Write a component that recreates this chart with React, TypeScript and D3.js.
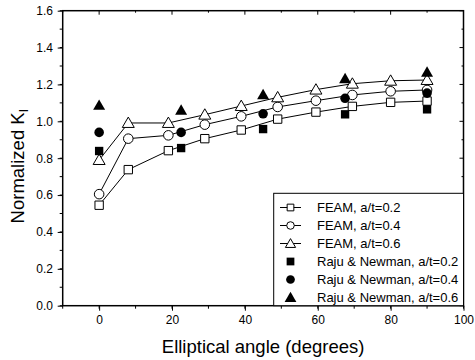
import React, { useRef, useEffect } from "react";
import * as d3 from "d3";

// FEAM curves (open markers joined by lines)
const feamAngles = [0, 8, 19, 29, 39, 49, 59.5, 69.5, 80, 90];
const feam02 = [0.545, 0.738, 0.841, 0.906, 0.953, 1.012, 1.05, 1.081, 1.103, 1.11];
const feam04 = [0.605, 0.906, 0.924, 0.982, 1.027, 1.078, 1.112, 1.143, 1.163, 1.17];
const feam06 = [0.79, 0.991, 0.991, 1.036, 1.083, 1.13, 1.172, 1.204, 1.22, 1.224];

// Raju & Newman (filled markers)
const rnAngles = [0, 22.5, 45, 67.5, 90];
const rn02 = [0.839, 0.855, 0.958, 1.038, 1.065];
const rn04 = [0.94, 0.94, 1.041, 1.125, 1.153];
const rn06 = [1.087, 1.06, 1.144, 1.231, 1.266];

const xTicks = [0, 20, 40, 60, 80, 100];
const yTicks = [0.0, 0.2, 0.4, 0.6, 0.8, 1.0, 1.2, 1.4, 1.6];

const legendLabels = [
  "FEAM, a/t=0.2",
  "FEAM, a/t=0.4",
  "FEAM, a/t=0.6",
  "Raju & Newman, a/t=0.2",
  "Raju & Newman, a/t=0.4",
  "Raju & Newman, a/t=0.6",
];

const FONT = "'Liberation Sans', Arial, sans-serif";

const App = () => {
  const svgRef = useRef<SVGSVGElement>(null);

  useEffect(() => {
    const width = 475, height = 360;
    const margin = { top: 10.7, right: 11.5, bottom: 54.3, left: 62.7 };

    const svg = d3.select(svgRef.current)
      .attr("width", width)
      .attr("height", height)
      .style("display", "block")
      .style("background", "#fff");
    svg.selectAll("*").remove();

    const x = d3.scaleLinear().domain([-10, 100]).range([margin.left, width - margin.right]);
    const y = d3.scaleLinear().domain([0, 1.6]).range([height - margin.bottom, margin.top]);

    const x0 = x.range()[0], x1 = x.range()[1];
    const y0 = y.range()[0], y1 = y.range()[1];

    // Markers
    const symSquare = d3.symbol().type(d3.symbolSquare).size(70);
    const symCircle = d3.symbol().type(d3.symbolCircle).size(72);
    const symTriangle = d3.symbol().type(d3.symbolTriangle).size(62);
    const shapes = [symSquare, symCircle, symTriangle];

    const line = d3.line<[number, number]>().x(d => x(d[0])).y(d => y(d[1]));

    const feamSeries = [feam02, feam04, feam06];
    feamSeries.forEach(vals => {
      const pts = feamAngles.map((a, i) => [a, vals[i]] as [number, number]);
      svg.append("path")
        .attr("d", line(pts))
        .attr("fill", "none")
        .attr("stroke", "#000")
        .attr("stroke-width", 1);
    });
    feamSeries.forEach((vals, k) => {
      svg.append("g").selectAll("path")
        .data(feamAngles.map((a, i) => [a, vals[i]]))
        .enter()
        .append("path")
        .attr("d", shapes[k]() as string)
        .attr("transform", d => `translate(${x(d[0])},${y(d[1]) + (k === 2 ? 1 : 0)})`)
        .attr("fill", "#fff")
        .attr("stroke", "#000")
        .attr("stroke-width", 1);
    });

    const rnSeries = [rn02, rn04, rn06];
    rnSeries.forEach((vals, k) => {
      svg.append("g").selectAll("path")
        .data(rnAngles.map((a, i) => [a, vals[i]]))
        .enter()
        .append("path")
        .attr("d", shapes[k]() as string)
        .attr("transform", d => `translate(${x(d[0])},${y(d[1]) + (k === 2 ? 1 : 0)})`)
        .attr("fill", "#000");
    });

    // Axes
    const xMinor = d3.range(-10, 101, 10);
    const yMinor = d3.range(0, 1.61, 0.1);

    const bottom = svg.append("g")
      .attr("transform", `translate(0,${y0})`)
      .call(d3.axisBottom(x).tickValues(xTicks).tickSize(5).tickFormat(d3.format("d")));
    bottom.select(".domain").remove();
    bottom.selectAll("text").attr("font-family", FONT).attr("font-size", 12).attr("fill", "#000").attr("dy", "0.85em");
    bottom.selectAll("line").attr("stroke-width", 1);
    svg.append("g").selectAll("line").data(xMinor).enter().append("line")
      .attr("x1", d => x(d)).attr("x2", d => x(d))
      .attr("y1", y0).attr("y2", y0 + 3)
      .attr("stroke", "#000");

    const left = svg.append("g")
      .attr("transform", `translate(${x0},0)`)
      .call(d3.axisLeft(y).tickValues(yTicks).tickSize(5).tickFormat(d3.format(".1f")));
    left.select(".domain").remove();
    left.selectAll("text").attr("font-family", FONT).attr("font-size", 12).attr("fill", "#000").attr("dx", "-0.15em");
    svg.append("g").selectAll("line").data(yMinor).enter().append("line")
      .attr("x1", x0 - 3).attr("x2", x0)
      .attr("y1", d => y(d)).attr("y2", d => y(d))
      .attr("stroke", "#000");

    // top & right inward ticks
    svg.append("g").selectAll("line").data(xMinor).enter().append("line")
      .attr("x1", d => x(d)).attr("x2", d => x(d))
      .attr("y1", y1).attr("y2", d => y1 + (d % 20 === 0 ? 4 : 2))
      .attr("stroke", "#000");
    svg.append("g").selectAll("line").data(yMinor).enter().append("line")
      .attr("x1", d => x1 - (Math.round(d * 10) % 2 === 0 ? 4 : 2)).attr("x2", x1)
      .attr("y1", d => y(d)).attr("y2", d => y(d))
      .attr("stroke", "#000");

    svg.append("rect")
      .attr("x", x0).attr("y", y1)
      .attr("width", x1 - x0).attr("height", y0 - y1)
      .attr("fill", "none")
      .attr("stroke", "#000")
      .attr("stroke-width", 1.5);

    // Axis titles
    svg.append("text")
      .attr("x", (x0 + x1) / 2)
      .attr("y", 353)
      .attr("text-anchor", "middle")
      .attr("font-family", FONT)
      .attr("font-size", 18.5)
      .text("Elliptical angle (degrees)");

    const yt = svg.append("text")
      .attr("transform", `translate(23.5,${(y0 + y1) / 2 + 8}) rotate(-90)`)
      .attr("text-anchor", "middle")
      .attr("font-family", FONT)
      .attr("font-size", 18.5);
    yt.append("tspan").text("Normalized K");
    yt.append("tspan").attr("font-size", 12).attr("dy", 4).text("I");

    // Legend
    const lg = svg.append("g");
    lg.append("rect")
      .attr("x", 273.7).attr("y", 193.3)
      .attr("width", x1 - 273.7).attr("height", y0 - 193.3)
      .attr("fill", "#fff")
      .attr("stroke", "#000")
      .attr("stroke-width", 1);
    const rowY = (i: number) => 207.5 + i * 18;
    legendLabels.forEach((lab, i) => {
      const cy = rowY(i);
      const k = i % 3;
      const filled = i >= 3;
      if (!filled) {
        lg.append("line")
          .attr("x1", 280).attr("x2", 301)
          .attr("y1", cy).attr("y2", cy)
          .attr("stroke", "#000");
      }
      lg.append("path")
        .attr("d", d3.symbol().type([d3.symbolSquare, d3.symbolCircle, d3.symbolTriangle][k]).size(filled ? 60 : 45)() as string)
        .attr("transform", `translate(290.5,${cy + (k === 2 ? 1 : 0)})`)
        .attr("fill", filled ? "#000" : "#fff")
        .attr("stroke", filled ? "none" : "#000")
        .attr("stroke-width", 1);
      lg.append("text")
        .attr("x", 317)
        .attr("y", cy)
        .attr("dy", "0.36em")
        .attr("font-family", FONT)
        .attr("font-size", 13)
        .text(lab);
    });
  }, []);

  return (
    <div style={{ position: "fixed", left: 0, top: 0 }}>
      <svg ref={svgRef}></svg>
    </div>
  );
};

export default App;
